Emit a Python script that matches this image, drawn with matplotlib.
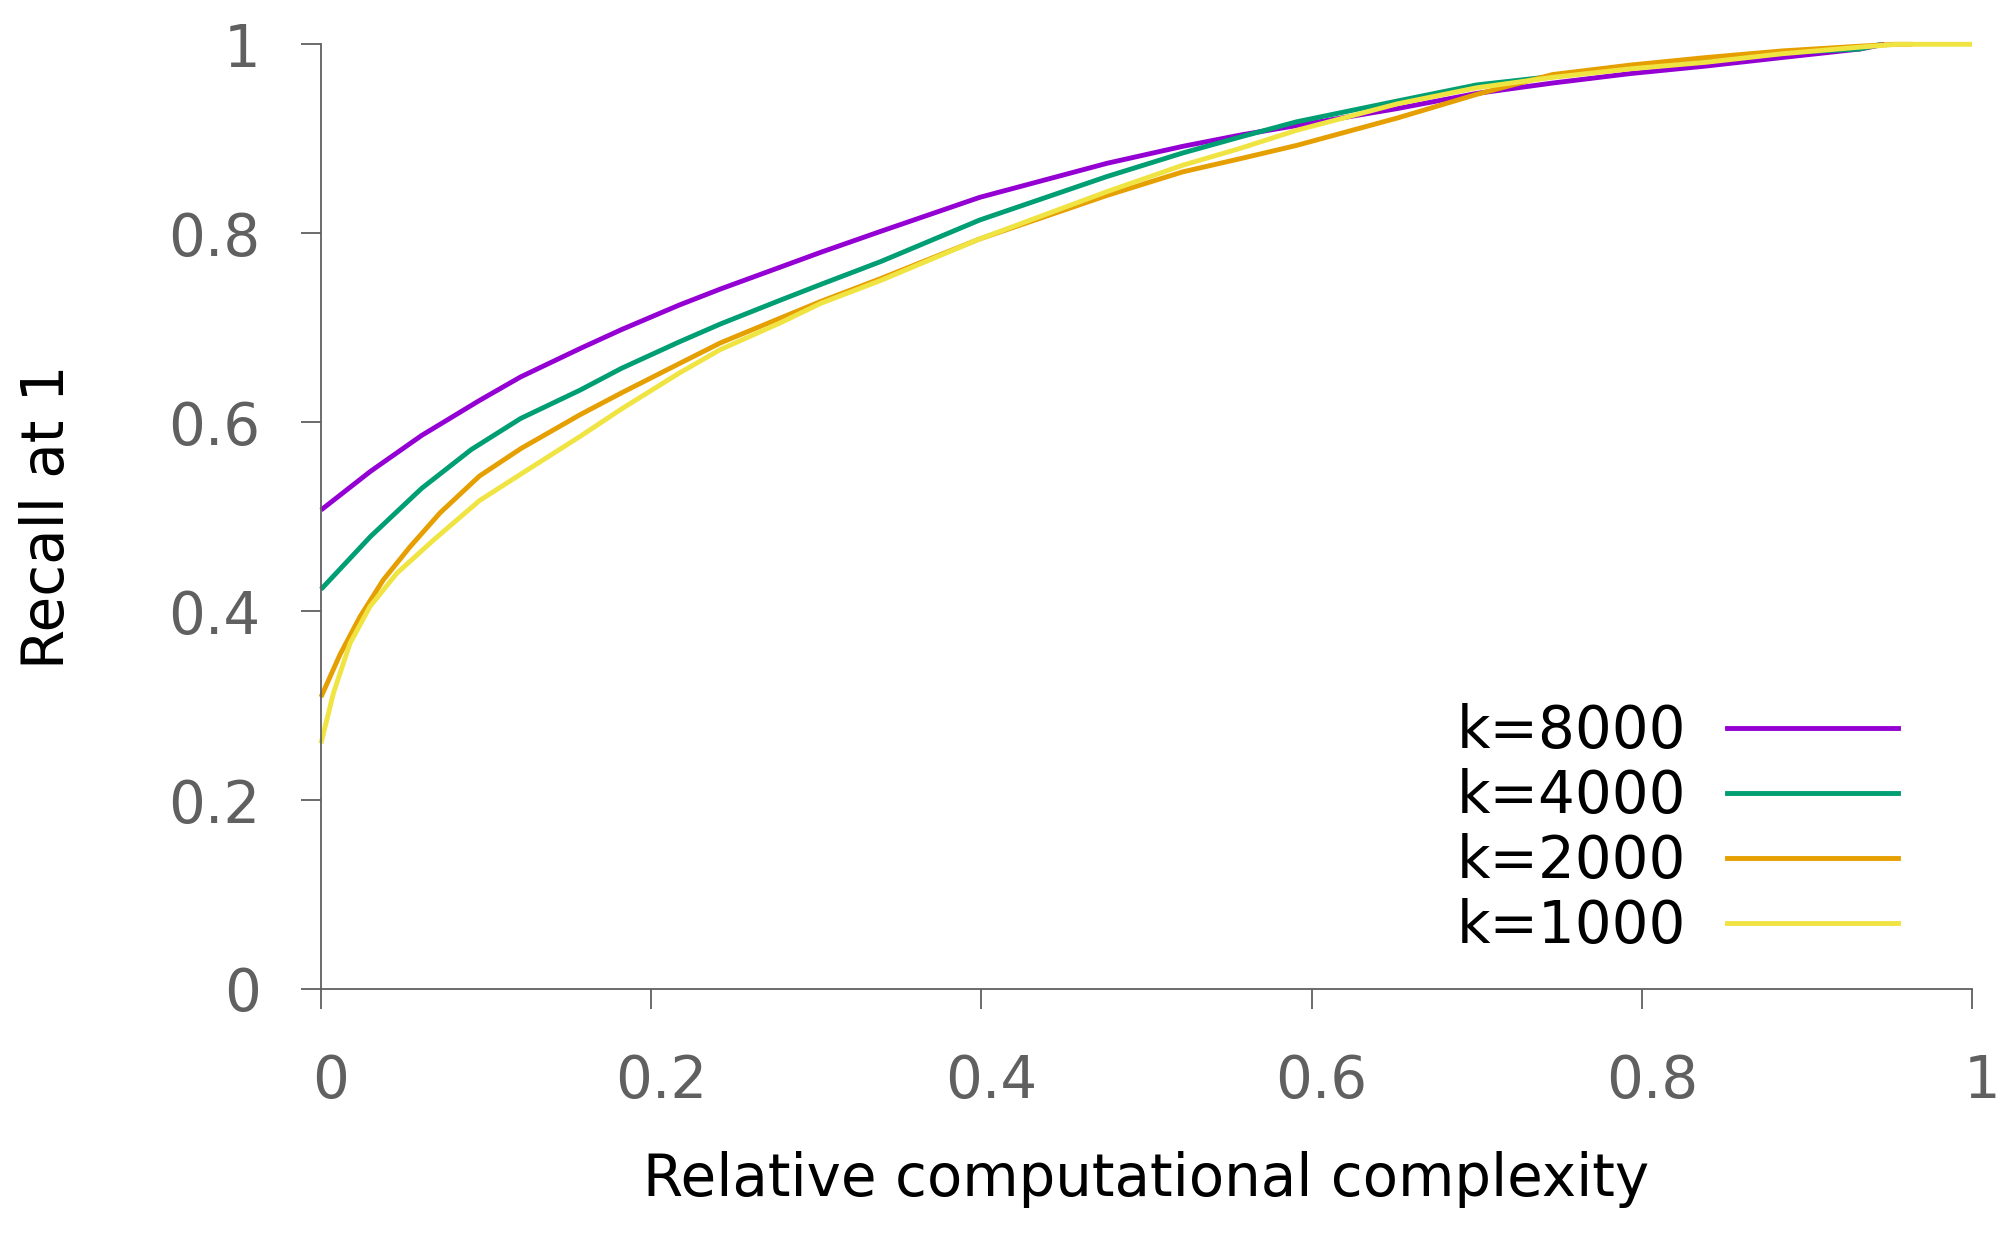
import matplotlib
matplotlib.use("Agg")
import matplotlib.pyplot as plt
from matplotlib.lines import Line2D
from matplotlib.transforms import ScaledTranslation

# curves (relative complexity -> recall at 1)
x_8000 = [0, 0.030, 0.061, 0.096, 0.121, 0.157, 0.182, 0.217, 0.242, 0.278, 0.303, 0.339, 0.399,
          0.476, 0.522, 0.557, 0.591, 0.652, 0.700, 0.746, 0.793, 0.839, 0.885, 0.932, 0.947]
r_8000 = [0.507, 0.548, 0.586, 0.623, 0.648, 0.678, 0.698, 0.724, 0.741, 0.764, 0.780, 0.802, 0.838,
          0.874, 0.892, 0.904, 0.914, 0.932, 0.948, 0.959, 0.969, 0.977, 0.986, 0.995, 1.0]

x_4000 = [0, 0.030, 0.061, 0.091, 0.121, 0.157, 0.182, 0.217, 0.242, 0.278, 0.303, 0.339, 0.399,
          0.476, 0.522, 0.557, 0.591, 0.652, 0.700, 0.746, 0.793, 0.839, 0.885, 0.932, 0.945]
r_4000 = [0.423, 0.479, 0.530, 0.571, 0.604, 0.634, 0.657, 0.685, 0.704, 0.729, 0.746, 0.770, 0.814,
          0.860, 0.885, 0.902, 0.918, 0.940, 0.957, 0.966, 0.976, 0.983, 0.991, 0.995, 1.0]

x_2000 = [0, 0.0115, 0.0236, 0.0377, 0.0539, 0.0721, 0.096, 0.121, 0.157, 0.182, 0.217, 0.242, 0.278,
          0.303, 0.339, 0.399, 0.476, 0.522, 0.557, 0.591, 0.652, 0.700, 0.746, 0.793, 0.839, 0.885,
          0.932, 0.953, 0.964]
r_2000 = [0.309, 0.354, 0.394, 0.433, 0.468, 0.504, 0.543, 0.572, 0.608, 0.631, 0.662, 0.684, 0.710,
          0.728, 0.752, 0.794, 0.840, 0.865, 0.879, 0.893, 0.922, 0.947, 0.968, 0.978, 0.986, 0.993,
          0.998, 1.0, 1.0]

x_1000 = [0, 0.0075, 0.0176, 0.0297, 0.0459, 0.068, 0.096, 0.121, 0.157, 0.182, 0.217, 0.242, 0.278,
          0.303, 0.339, 0.399, 0.476, 0.522, 0.557, 0.591, 0.652, 0.700, 0.746, 0.793, 0.839, 0.885,
          0.932, 0.955, 1.0]
r_1000 = [0.260, 0.313, 0.366, 0.405, 0.440, 0.475, 0.517, 0.545, 0.585, 0.614, 0.652, 0.677, 0.705,
          0.726, 0.750, 0.794, 0.844, 0.872, 0.890, 0.909, 0.937, 0.954, 0.965, 0.974, 0.981, 0.990,
          0.997, 1.0, 1.0]

labels = ["k=8000", "k=4000", "k=2000", "k=1000"]
colors = ["#9400d3", "#009e73", "#e69f00", "#f0e442"]

ticks = [0, 0.2, 0.4, 0.6, 0.8, 1]
tick_labels = ["0", "0.2", "0.4", "0.6", "0.8", "1"]

W, H = 2015, 1237
fig = plt.figure(figsize=(W / 100, H / 100), dpi=100)
ax = fig.add_axes([321 / W, 1 - 989 / H, (1972 - 321) / W, (989 - 44.3) / H])

grey = "#606060"
fs = 41.7
lw = 3.5

series = [(x_8000, r_8000), (x_4000, r_4000), (x_2000, r_2000), (x_1000, r_1000)]
for (xs, ys), c in zip(series, colors):
    ax.plot(xs, ys, color=c, lw=lw, clip_on=False, solid_capstyle="butt",
            solid_joinstyle="round")

ax.set_xlim(0, 1)
ax.set_ylim(0, 1)
ax.set_xticks(ticks)
ax.set_xticklabels(tick_labels)
ax.set_yticks(ticks)
ax.set_yticklabels(tick_labels)

for s in ["top", "right"]:
    ax.spines[s].set_visible(False)
for s in ["left", "bottom"]:
    ax.spines[s].set_color(grey)
    ax.spines[s].set_linewidth(1.3)

ax.tick_params(axis="both", direction="out", length=14.4, width=1.3, color=grey,
               labelcolor=grey, labelsize=fs)
ax.tick_params(axis="x", pad=32)
ax.tick_params(axis="y", pad=29)

# gnuplot puts the x labels a bit right of the ticks
for lab in ax.get_xticklabels():
    lab.set_transform(lab.get_transform() + ScaledTranslation(0.10, 0, fig.dpi_scale_trans))

fig.text(1146 / W, 1 - 1180 / H, "Relative computational complexity", fontsize=fs,
         ha="center", va="center", color="black")
fig.text(48 / W, 1 - 517 / H, "Recall at 1", fontsize=fs, rotation=90,
         ha="center", va="center", color="black")

handles = [Line2D([], [], color=c, lw=lw) for c in colors]
ax.legend(handles, labels, loc="upper right", bbox_to_anchor=(1898 / W, 1 - 703 / H),
          bbox_transform=fig.transFigure, frameon=False, markerfirst=False,
          fontsize=fs, handlelength=2.95, handletextpad=0.70, labelspacing=0.14,
          borderpad=0, borderaxespad=0)

fig.savefig("out.png", dpi=100)
